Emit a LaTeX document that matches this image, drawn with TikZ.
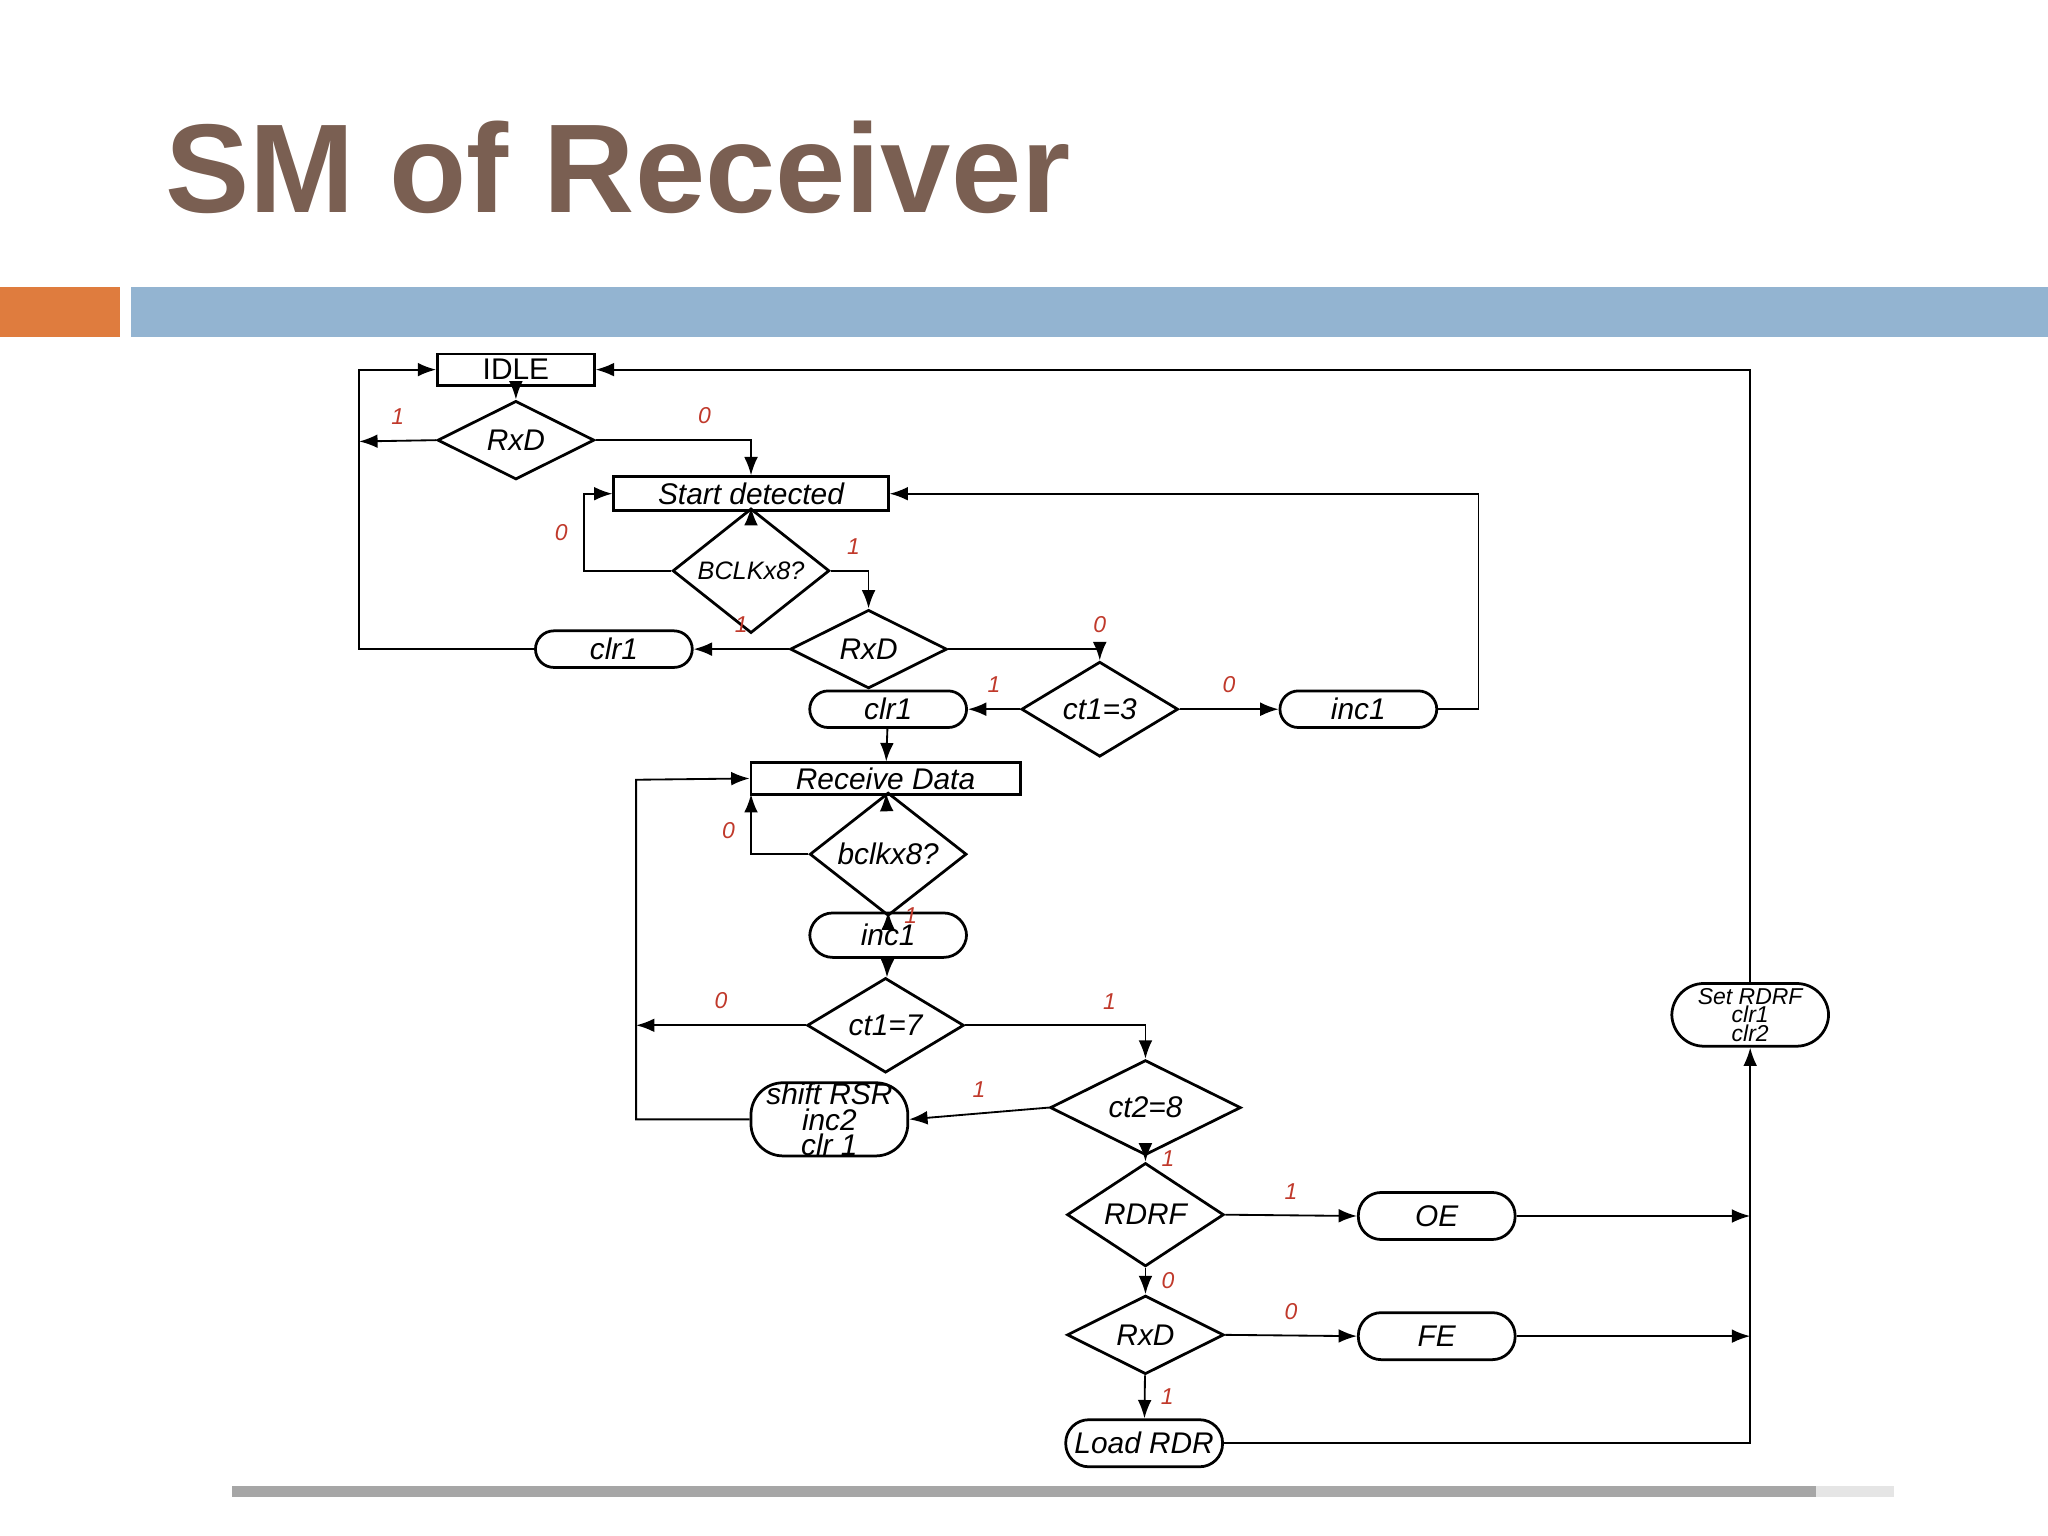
\documentclass[tikz,border=0pt]{standalone}
\usepackage{fontspec}
\setmainfont{Liberation Sans}
\usetikzlibrary{shapes.geometric, arrows.meta}
\definecolor{titlebrown}{HTML}{7A5F52}
\definecolor{barorange}{HTML}{DF7C3E}
\definecolor{barblue}{HTML}{93B4D1}
\definecolor{lblred}{HTML}{C0392B}
\begin{document}
\begin{tikzpicture}[x=0.01cm, y=-0.01cm,
            > = {Latex[length=4pt,width=3pt]},
 state/.style = {draw, semithick, rectangle, minimum width=1.2cm, minimum height=0.24cm, inner sep=1pt, font=\fontsize{6.5}{7}\selectfont\itshape},
  test/.style = {draw, semithick, diamond, inner sep=0pt, minimum width=1.2cm, font=\fontsize{6.5}{7}\selectfont\itshape},
   act/.style = {draw, semithick, rounded corners=4pt, minimum width=1.2cm, minimum height=0.3cm, inner sep=1pt, align=center, font=\fontsize{6.5}{7}\selectfont\itshape},
  flow/.style = {->, thin},
   lbl/.style = {font=\fontsize{5}{6}\selectfont\itshape, text=lblred}
                        ]
\useasboundingbox (0,0) rectangle (1568,1176);
% slide frame
\node[anchor=west, text=titlebrown, font=\fontsize{27.5}{32}\selectfont\bfseries] (title) at (114,128) {SM of Receiver};
\fill[barorange] (0,220) rectangle (92,258);
\fill[barblue] (100,220) rectangle (1568,258);
\fill[gray!70] (178,1138) rectangle (1390,1146);
\fill[gray!20] (1390,1138) rectangle (1450,1146);
% states and tests
\node[state, font=\fontsize{6.5}{7}\selectfont] (idle) at (395,283) {IDLE};
\node[test, minimum height=0.34cm] (rxd1) at (395,337) {RxD};
\node[state, minimum width=2.1cm, minimum height=0.26cm] (start) at (575,378) {Start detected};
\node[test, minimum height=0.36cm, font=\fontsize{5.5}{6}\selectfont\itshape] (bclk1) at (575,437) {BCLKx8?};
\node[test, minimum height=0.44cm] (rxd2) at (665,497) {RxD};
\node[act, minimum height=0.28cm] (clra) at (470,497) {clr1};
\node[test, minimum height=0.38cm] (ct13) at (842,543) {ct1=3};
\node[act, minimum height=0.28cm] (clrb) at (680,543) {clr1};
\node[act, minimum height=0.28cm] (inca) at (1040,543) {inc1};
\node[state, minimum width=2.06cm] (recv) at (678,596) {Receive Data};
\node[test, minimum height=0.42cm] (bclk2) at (680,654) {bclkx8?};
\node[act, minimum height=0.34cm, rounded corners=5pt] (incb) at (680,716) {inc1};
\node[test, minimum height=0.52cm] (ct17) at (678,785) {ct1=7};
\node[test, minimum width=1.46cm, minimum height=0.6cm] (ct28) at (877,848) {ct2=8};
\node[act, minimum height=0.56cm, rounded corners=7pt, inner sep=0pt] (shift) at (635,857) {shift RSR\\[-1.5pt]inc2\\[-1.5pt]clr 1};
\node[test, minimum height=0.52cm] (rdrf) at (877,930) {RDRF};
\node[act, minimum height=0.36cm, rounded corners=5pt] (oe) at (1100,931) {OE};
\node[test, minimum height=0.52cm] (rxd3) at (877,1022) {RxD};
\node[act, minimum height=0.36cm, rounded corners=5pt] (fe) at (1100,1023) {FE};
\node[act, minimum height=0.36cm, rounded corners=5pt] (load) at (876,1105) {Load RDR};
\node[act, minimum height=0.48cm, rounded corners=7pt, inner sep=0pt, font=\fontsize{5}{5}\selectfont\itshape] (set) at (1340,777) {Set RDRF\\[-1pt]clr1\\[-1pt]clr2};
% helper points
\coordinate (j1) at (275,338);
\coordinate (j2) at (487,785);
\coordinate (jr) at (575,608);
\coordinate (jo) at (1340,931);
\coordinate (jf) at (1340,1023);
% connectors
\draw[flow] (idle) -- (rxd1);
\draw[flow] (rxd1.west) -- (j1) node[lbl, pos=0.5, above] {1};
\draw[flow] (clra.west) -| (275,283) -- (idle.west);
\draw[flow] (rxd1.east) -| (start.north) node[lbl, pos=0.35, above] {0};
\draw[flow] (start) -- (bclk1);
\draw[flow] (bclk1.west) -| (447,378) node[lbl, pos=0.75, left] {0} -- (start.west);
\draw[flow] (bclk1.east) -| (rxd2.north) node[lbl, pos=0.3, above] {1};
\draw[flow] (rxd2.west) -- (clra.east) node[lbl, midway, above] {1};
\draw[flow] (rxd2.east) -| (ct13.north) node[lbl, pos=0.5, above] {0};
\draw[flow] (ct13.west) -- (clrb.east) node[lbl, midway, above] {1};
\draw[flow] (ct13.east) -- (inca.west) node[lbl, midway, above] {0};
\draw[flow] (inca.east) -| (1132,378) -- (start.east);
\draw[flow] (clrb) -- (recv);
\draw[flow] (recv) -- (bclk2);
\draw[flow] (bclk2.west) -| (jr) node[lbl, pos=0.7, left] {0};
\draw[flow] (bclk2) -- (incb) node[lbl, pos=0.3, right] {1};
\draw[flow] (incb) -- (ct17);
\draw[flow] (ct17.west) -- (j2) node[lbl, midway, above] {0};
\draw[flow] (shift.west) -| (487,597) -- (recv.west);
\draw[flow] (ct17.east) -| (ct28.north) node[lbl, pos=0.4, above] {1};
\draw[flow] (ct28.west) -- (shift.east) node[lbl, midway, above] {1};
\draw[flow] (ct28) -- (rdrf) node[lbl, pos=0.5, right] {1};
\draw[flow] (rdrf.east) -- (oe.west) node[lbl, midway, above] {1};
\draw[flow] (rdrf) -- (rxd3) node[lbl, pos=0.5, right] {0};
\draw[flow] (rxd3.east) -- (fe.west) node[lbl, midway, above] {0};
\draw[flow] (rxd3) -- (load) node[lbl, pos=0.5, right] {1};
\draw[flow] (oe.east) -- (jo);
\draw[flow] (fe.east) -- (jf);
\draw[flow] (load.east) -| (set.south);
\draw[flow] (set.north) |- (idle.east);
\end{tikzpicture}
\end{document}
